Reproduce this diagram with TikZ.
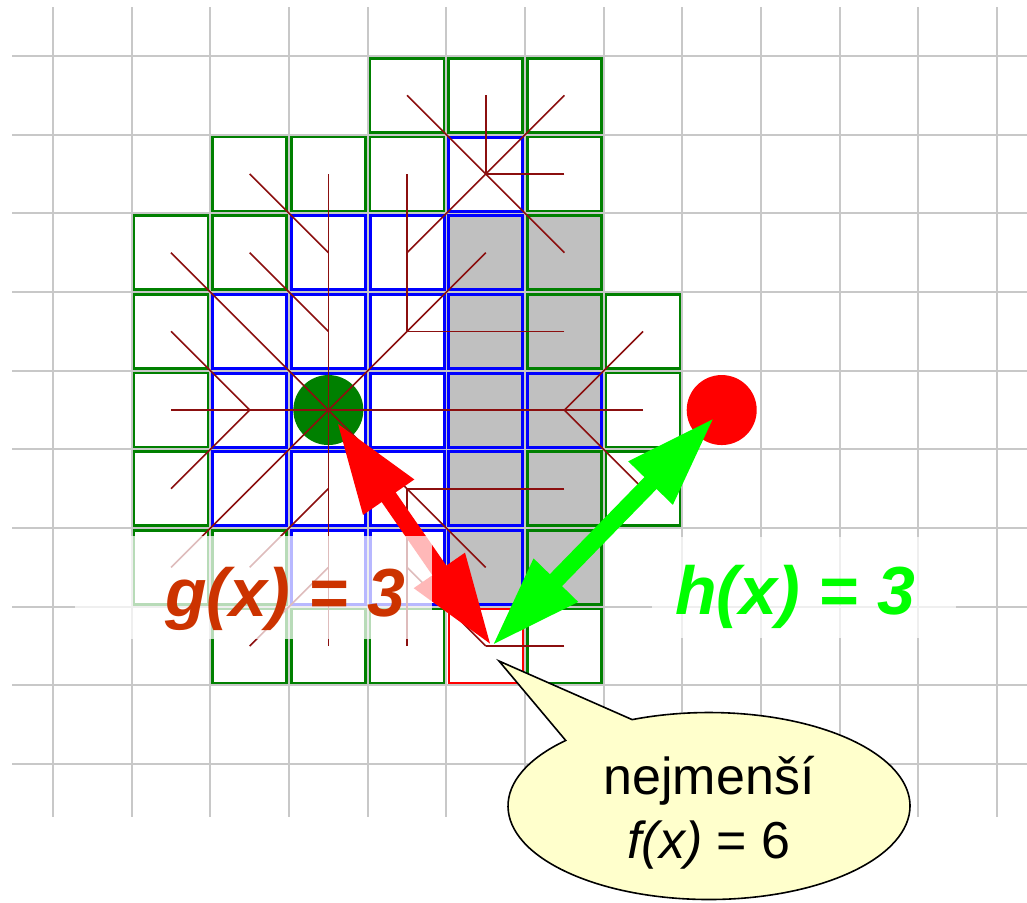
\documentclass[tikz,border=0pt]{standalone}
\usepackage{fontspec}
\setmainfont{Liberation Sans}
\usetikzlibrary{arrows.meta,calc,shapes.callouts}
\definecolor{asGrid}{HTML}{C8C8C8}
\definecolor{asGreen}{HTML}{008000}
\definecolor{asBlue}{HTML}{0000FF}
\definecolor{asRed}{HTML}{FF0000}
\definecolor{asWall}{HTML}{C0C0C0}
\definecolor{asLink}{HTML}{8B0F0F}
\definecolor{asGText}{HTML}{CC3300}
\definecolor{asHText}{HTML}{00FF00}
\definecolor{asNote}{HTML}{FFFFCC}
\tikzset{
  as grid/.style={draw=asGrid, line width=1pt},
  as open/.style={draw=asGreen, line width=1.25pt},
  as closed/.style={draw=asBlue, line width=1.5pt},
  as best/.style={draw=asRed, line width=1.1pt},
  as wall/.style={fill=asWall},
  as link/.style={draw=asLink, line width=.8pt},
  as dot/.style={circle, inner sep=0pt, minimum size=35pt},
  as gap/.style={
    line width=8.5pt,
    {Triangle[length=46pt,width=28.5pt]}-{Triangle[length=46pt,width=28.5pt]}
  },
  as veil/.style={fill=white, fill opacity=.72},
  as value/.style={font=\fontsize{34}{40}\selectfont\bfseries\itshape,
    inner sep=0pt, anchor=base west},
  as bubble/.style={ellipse callout, draw=black, line width=.8pt, fill=asNote,
    minimum width=201pt, minimum height=93.5pt, callout pointer arc=23},
  as note/.style={font=\fontsize{26}{32}\selectfont, align=center, inner sep=0pt}
}

\begin{document}
\begin{tikzpicture}[x=.5pt,y=-.5pt]
  \useasboundingbox (0,0) rectangle (1027,902);

  % grid
  \foreach \i in {0,...,12}
    \draw[as grid] ({53+78.67*\i},7) -- ({53+78.67*\i},817);
  \foreach \j in {0,...,9}
    \draw[as grid] (12,{56+78.67*\j}) -- (1027,{56+78.67*\j});

  % cell centres
  \foreach \c in {0,...,11}
    \foreach \r in {0,...,9}
      \coordinate (c\c-\r) at ({92.35+78.67*\c},{95.35+78.67*\r});

  % obstacle
  \foreach \c/\r in {5/2,6/2,5/3,6/3,5/4,6/4,5/5,6/5,5/6,6/6}
    \fill[as wall] ($(c\c-\r)+(-37,-37)$) rectangle ($(c\c-\r)+(37,37)$);

  % open list
  \foreach \c/\r in {4/0,5/0,6/0,2/1,3/1,4/1,6/1,1/2,2/2,6/2,1/3,6/3,7/3,1/4,7/4,
                     1/5,6/5,7/5,1/6,2/6,6/6,2/7,3/7,4/7,6/7}
    \draw[as open] ($(c\c-\r)+(-37,-37)$) rectangle ($(c\c-\r)+(37,37)$);
  % closed list
  \foreach \c/\r in {5/1,3/2,4/2,5/2,2/3,3/3,4/3,5/3,2/4,3/4,4/4,5/4,6/4,
                     2/5,3/5,4/5,5/5,3/6,4/6,5/6}
    \draw[as closed] ($(c\c-\r)+(-37,-37)$) rectangle ($(c\c-\r)+(37,37)$);
  \draw[as best] ($(c5-7)+(-37,-37)$) rectangle ($(c5-7)+(37,37)$);

  \node[as dot, fill=asGreen] (start) at (c3-4) {};
  \node[as dot, fill=asRed] (goal) at (c8-4) {};

  % parent links
  \foreach \a/\b in {4-0/5-1,5-0/5-1,6-0/5-1,6-1/5-1,6-2/5-1,5-1/4-2,
                     2-1/3-2,3-1/3-2,4-1/4-2,
                     1-2/2-3,2-2/3-3,3-2/3-3,4-2/4-3,5-2/4-3,
                     1-3/2-4,2-3/3-4,3-3/3-4,4-3/3-4,5-3/4-3,6-3/5-3,7-3/6-4,
                     1-4/2-4,2-4/3-4,4-4/3-4,5-4/4-4,6-4/5-4,7-4/6-4,
                     1-5/2-4,2-5/3-4,3-5/3-4,4-5/3-4,5-5/4-5,6-5/5-5,7-5/6-4,
                     1-6/2-5,2-6/3-5,3-6/3-5,4-6/4-5,5-6/4-5,
                     2-7/3-6,3-7/3-6,4-7/4-6,5-7/4-6,6-7/5-7}
    \draw[as link] (c\a) -- (c\b);

  \coordinate (meet) at ($(c5-7)+(6,0)$);
  \draw[as gap, draw=asRed, fill=asRed, shorten <=7pt] (start.center) -- (meet);
  \draw[as gap, draw=asHText, fill=asHText, shorten <=5pt] (goal.center) -- (meet);

  \path[as veil] (75,536) rectangle (432,639);
  \path[as veil] (652,537) rectangle (956,638);
  \node[as value, text=asGText] (gval) at (165,616) {g(x) = 3};
  \node[as value, text=asHText] (hval) at (675,614) {h(x) = 3};

  \coordinate (tail) at (499,661);
  \node[as bubble, callout absolute pointer={(tail)}] (bubble) at (709,806) {};
  \node[as note] (fval) at (709,813) {nejmenší\\\textit{f(x)} = 6};
\end{tikzpicture}
\end{document}
